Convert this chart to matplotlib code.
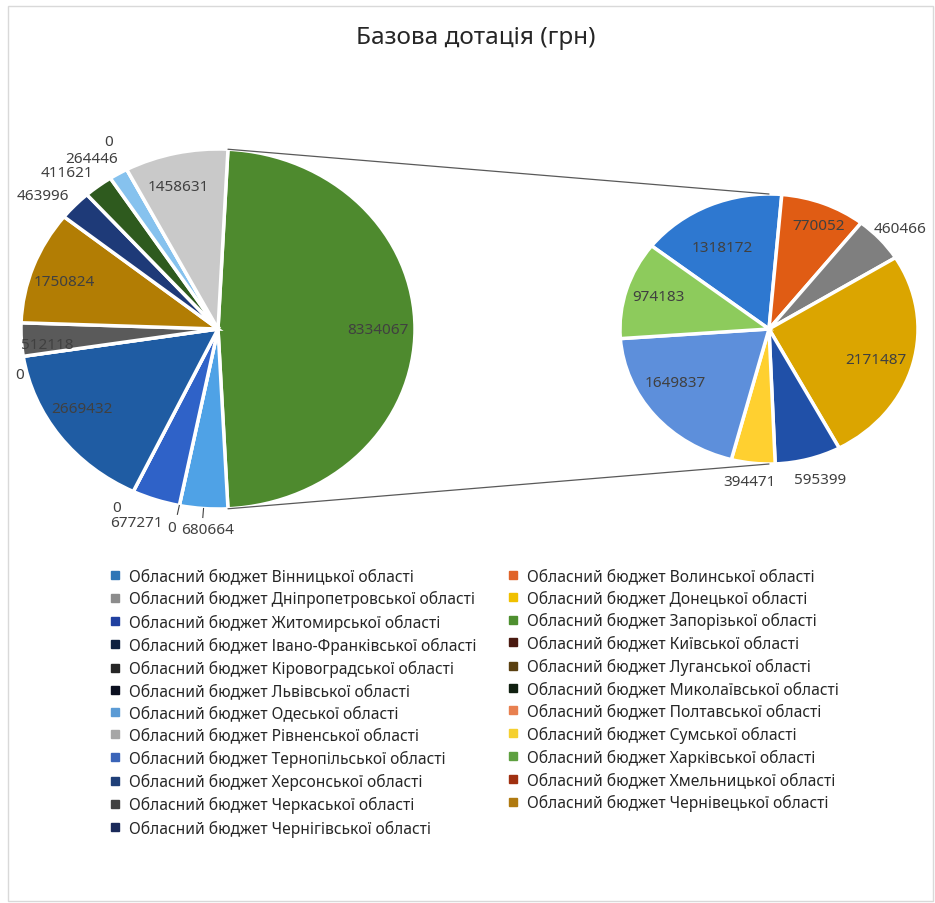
import numpy as np
import matplotlib
matplotlib.use("Agg")
import matplotlib.pyplot as plt
from matplotlib.patches import Rectangle, ConnectionPatch
from matplotlib.lines import Line2D

plt.rcParams['font.family'] = ['Noto Sans', 'DejaVu Sans']

title = "Базова дотація (грн)"

# primary pie, clockwise from the "other" slice
primary_values = [8334067, 680664, 0, 677271, 0, 2669432, 0, 512118,
                  1750824, 463996, 411621, 264446, 0, 1458631]
primary_colors = ['#4E8A2E', '#4FA2E6', '#C55A11', '#2F62C8', '#375623', '#1F5CA3', '#843C0C',
                  '#5A5A5A', '#B27D04', '#1E3A78', '#2E5A1E', '#86C2EE', '#F4B183', '#C9C9C9']

# secondary pie (the "other" slice split)
secondary_values = [1318172, 770052, 460466, 2171487, 595399, 394471, 1649837, 974183]
secondary_colors = ['#2E78D0', '#E05C14', '#7F7F7F', '#DBA500', '#2050A8', '#FFD030', '#5D8FDB', '#8DCB5C']

regions = ["Вінницької", "Волинської", "Дніпропетровської", "Донецької", "Житомирської",
           "Запорізької", "Івано-Франківської", "Київської", "Кіровоградської", "Луганської",
           "Львівської", "Миколаївської", "Одеської", "Полтавської", "Рівненської", "Сумської",
           "Тернопільської", "Харківської", "Херсонської", "Хмельницької", "Черкаської",
           "Чернівецької", "Чернігівської"]
legend_colors = ['#2E75B6', '#E0642A', '#8C8C8C', '#F0C000', '#2040A0', '#4E8F2F',
                 '#0D1F3F', '#4A1A10', '#262626', '#5A4010', '#0A0F1F', '#102010',
                 '#5B9BD5', '#E88050', '#A6A6A6', '#F5D030', '#3A64B8', '#5EA040',
                 '#1F3F78', '#A03010', '#404040', '#B07A10', '#1A2A5A']

# label placement per slice (style): distance from centre, angle nudge in degrees
primary_lr = [0.81, 1.115, 1.125, 1.15, 1.114, 0.82, 1.036, 0.872, 0.824, 1.155, 1.16, 1.145, 1.18, 0.82]
primary_da = [0, 1.5, -0.7, -2.6, -1.9, -3.8, 5.3, 2.2, 1.8, 3.6, 3.9, 3.7, 0.6, 2.0]
secondary_lr = [0.684, 0.834, 1.15, 0.752, 1.163, 1.141, 0.743, 0.778]
secondary_da = [3.9, -2.2, -1.7, -2.2, 1.9, -0.6, -7.8, -1.3]
leader_idx = [1, 2]

W, H = 935, 904
fig = plt.figure(figsize=(W / 100, H / 100), dpi=100)


def pie_axes(cx, cy, rx, ry, lim=1.3):
    ax = fig.add_axes([(cx - rx * lim) / W, 1 - (cy + ry * lim) / H,
                       2 * rx * lim / W, 2 * ry * lim / H])
    return ax


def finish(ax, lim=1.3):
    ax.set_aspect('auto')
    ax.set_xlim(-lim, lim)
    ax.set_ylim(-lim, lim)
    ax.axis('off')


lab_kw = dict(ha='center', va='center', fontsize=11, color='#404040')


def put_labels(ax, wedges, values, lr, da):
    for i, (w, v) in enumerate(zip(wedges, values)):
        mid = (w.theta1 + w.theta2) / 2
        a = np.deg2rad(mid + da[i])
        ax.text(lr[i] * np.cos(a), lr[i] * np.sin(a), str(v), **lab_kw)
    return


# primary
ax1 = pie_axes(218, 330, 197, 180)
f_other = primary_values[0] / sum(primary_values)
w1, _ = ax1.pie(primary_values, colors=primary_colors, startangle=180 * f_other,
                counterclock=False, wedgeprops=dict(edgecolor='white', linewidth=2.5))
finish(ax1)
put_labels(ax1, w1, primary_values, primary_lr, primary_da)
for i in leader_idx:
    a = np.deg2rad((w1[i].theta1 + w1[i].theta2) / 2)
    ax1.plot([1.0 * np.cos(a), 1.05 * np.cos(a)], [1.0 * np.sin(a), 1.05 * np.sin(a)],
             color='#404040', lw=0.8)

# secondary
ax2 = pie_axes(769, 330, 149, 135)
w2, _ = ax2.pie(secondary_values, colors=secondary_colors, startangle=142,
                counterclock=False, wedgeprops=dict(edgecolor='white', linewidth=2.5))
finish(ax2)
put_labels(ax2, w2, secondary_values, secondary_lr, secondary_da)

# connector lines
t1 = np.deg2rad(w1[0].theta1)
t2 = np.deg2rad(w1[0].theta2)
for (x0, y0), yb in [((np.cos(t2), np.sin(t2)), 1), ((np.cos(t1), np.sin(t1)), -1)]:
    con = ConnectionPatch(xyA=(x0, y0), coordsA=ax1.transData,
                          xyB=(0, yb), coordsB=ax2.transData, color='#595959', lw=0.9)
    fig.add_artist(con)

fig.text(476 / W, 1 - 38 / H, title, ha='center', va='center', fontsize=17.5, color='#262626')

# legend, filled row by row like excel
handles = [Line2D([], [], marker='s', ls='none', markersize=6, color=c)
           for c in legend_colors]
labels = ["Обласний бюджет " + r + " області" for r in regions]
for col, x0 in [(0, 110), (1, 508)]:
    leg = fig.legend(handles[col::2], labels[col::2], loc='upper left',
                     bbox_to_anchor=(x0 / W, 1 - 569 / H), frameon=False,
                     fontsize=11.2, handlelength=0.7, handletextpad=0.5,
                     labelspacing=0.4, borderpad=0, borderaxespad=0)
    for t in leg.get_texts():
        t.set_color('#262626')

fig.add_artist(Rectangle((8 / W, 2 / H), 1 - 10 / W, 1 - 9 / H, transform=fig.transFigure,
                         fill=False, edgecolor='#D9D9D9', lw=1))

fig.savefig("out.png", dpi=100)
